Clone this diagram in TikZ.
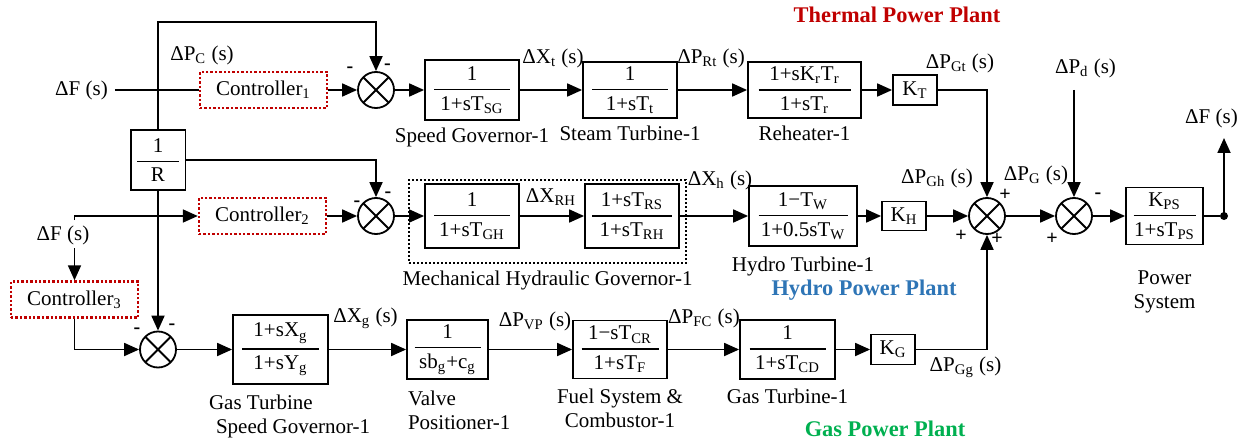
\documentclass[tikz,border=0pt]{standalone}
\usepackage{amsmath}
\usepackage{fontspec}
\setmainfont{Liberation Serif}
\usetikzlibrary{arrows.meta,positioning}
\definecolor{ctlred}{HTML}{C00000}
\definecolor{hydblue}{HTML}{2E75B6}
\definecolor{gasgreen}{HTML}{00B050}
\newcommand{\tsb}[1]{\textsubscript{#1}}
\newcommand{\tf}[3][38pt]{$\genfrac{}{}{0.8pt}{0}{\makebox[#1]{#2}}{\makebox[#1]{#3}}$}
\tikzset{
  blk/.style={draw,rectangle,line width=0.9pt,inner sep=2pt},
  ctl/.style={draw=ctlred,rectangle,line width=1.2pt,dash pattern=on 1.2pt off 1pt,minimum width=63.5pt,minimum height=18pt},
  mhg/.style={draw,rectangle,line width=0.7pt,dash pattern=on 0.8pt off 1.2pt},
  sumj/.style={circle,draw,line width=0.9pt,minimum size=18pt,inner sep=0pt,
    path picture={\draw[line width=0.9pt] (path picture bounding box.south west) -- (path picture bounding box.north east)
      (path picture bounding box.north west) -- (path picture bounding box.south east);}},
  arr/.style={-{Triangle[length=7.5pt,width=6.5pt]},line width=0.9pt},
  lin/.style={line width=0.9pt},
  sgn/.style={font=\fontsize{10}{10}\selectfont\bfseries,inner sep=0pt},
  ttl/.style={font=\fontsize{11.2}{13}\selectfont\bfseries}
}
\begin{document}
\begin{tikzpicture}[x=5pt,y=-5pt,font=\fontsize{10.5}{12}\selectfont]
  \useasboundingbox (0,0) rectangle (125.8,44.4);
  % Titles
  \node[ttl,text=ctlred] (tthm) at (89.7,1.5) {Thermal Power Plant};
  \node[ttl,text=hydblue] (thyd) at (86.4,29.0) {Hydro Power Plant};
  \node[ttl,text=gasgreen] (tgas) at (88.5,42.9) {Gas Power Plant};

  % Thermal row
  \node (df1) at (8.15,9.0) {ΔF (s)};
  \node[ctl] (ctl1) at (26.35,9.0) {Controller\tsb{1}};
  \node[sumj] (sumt) at (37.6,9.0) {};
  \node[blk,minimum width=47pt,minimum height=30pt] (spg) at (47.2,9.0) {\tf{1}{1+sT\tsb{SG}}};
  \node[blk,minimum width=47pt,minimum height=28pt] (stt) at (63.0,9.0) {\tf{1}{1+sT\tsb{t}}};
  \node[blk,minimum width=56.5pt,minimum height=28pt] (rht) at (80.45,9.0) {\tf[46pt]{1+sK\tsb{r}T\tsb{r}}{1+sT\tsb{r}}};
  \node[blk,minimum width=22pt,minimum height=15pt] (kt) at (91.5,9.0) {K\tsb{T}};
  \node[below=0pt of spg] (cspg) {Speed Governor-1};
  \node[below=0pt of stt] (cstt) {Steam Turbine-1};
  \node[below=0pt of rht] (crht) {Reheater-1};
  \node (lpc) at (20.2,5.5) {ΔP\tsb{C} (s)};
  \node (lxt) at (55.3,5.8) {ΔX\tsb{t} (s)};
  \node (lprt) at (71.1,5.8) {ΔP\tsb{Rt} (s)};
  \node (lpgt) at (96.0,6.3) {ΔP\tsb{Gt} (s)};

  % Droop feedback
  \node[blk,minimum width=25pt,minimum height=30pt] (invr) at (15.8,16.0) {\tf[21pt]{1}{R}};
  \coordinate (fbtop) at (37.6,2.2);

  % Hydro row
  \node (df2) at (6.3,23.5) {ΔF (s)};
  \coordinate (f2top) at (7.45,22.0);
  \coordinate (f2bot) at (7.45,24.8);
  \node[ctl] (ctl2) at (26.25,21.6) {Controller\tsb{2}};
  \node[sumj] (sumh) at (37.6,21.6) {};
  \node[blk,minimum width=47pt,minimum height=32pt] (ghy) at (47.2,21.6) {\tf{1}{1+sT\tsb{GH}}};
  \node[blk,minimum width=47pt,minimum height=32pt] (rsh) at (63.2,21.6) {\tf[40pt]{1+sT\tsb{RS}}{1+sT\tsb{RH}}};
  \node[mhg,minimum width=138.5pt,minimum height=41.5pt] (mhgb) at (54.75,22.15) {};
  \node[blk,minimum width=54pt,minimum height=30pt] (hyt) at (80.3,21.6) {\tf[44.5pt]{1−T\tsb{W}}{1+0.5sT\tsb{W}}};
  \node[blk,minimum width=22pt,minimum height=14.5pt] (kh) at (90.4,21.6) {K\tsb{H}};
  \node[below=0pt of mhgb] (cmhg) {Mechanical Hydraulic Governor-1};
  \node[below=1.5pt of hyt] (chyt) {Hydro Turbine-1};
  \node (lxrh) at (55.1,19.7) {ΔX\tsb{RH}};
  \node (lxh) at (72.0,18.0) {ΔX\tsb{h} (s)};
  \node (lpgh) at (93.7,17.8) {ΔP\tsb{Gh} (s)};

  % Summation and power system
  \node[sumj] (sump) at (98.7,21.6) {};
  \node[sumj] (sumd) at (107.4,21.6) {};
  \node[blk,minimum width=38.5pt,minimum height=28.5pt] (kps) at (116.45,21.6) {\tf[31pt]{K\tsb{PS}}{1+sT\tsb{PS}}};
  \node[circle,fill,inner sep=0pt,minimum size=4pt] (dot) at (122.4,21.6) {};
  \coordinate (fout) at (122.4,13.8);
  \coordinate (pd) at (107.4,9.0);
  \node[below=9pt of kps,align=center] (ckps) {Power\\System};
  \node (lpg) at (103.6,17.5) {ΔP\tsb{G} (s)};
  \node (lpd) at (108.55,6.8) {ΔP\tsb{d} (s)};
  \node (lfo) at (121.15,11.8) {ΔF (s)};

  % Gas row
  \node[ctl] (ctl3) at (7.45,29.95) {Controller\tsb{3}};
  \node[sumj] (sumg) at (15.8,34.95) {};
  \node[blk,minimum width=47.5pt,minimum height=34.5pt] (gsg) at (28.05,34.95) {\tf[38.5pt]{1+sX\tsb{g}}{1+sY\tsb{g}}};
  \node[blk,minimum width=40.5pt,minimum height=29.5pt] (vpo) at (44.75,34.95) {\tf[33pt]{1}{sb\tsb{g}+c\tsb{g}}};
  \node[blk,minimum width=47pt,minimum height=29pt] (fcb) at (62.0,34.95) {\tf[38.5pt]{1−sT\tsb{CR}}{1+sT\tsb{F}}};
  \node[blk,minimum width=47.5pt,minimum height=29.5pt] (gtb) at (78.75,34.95) {\tf{1}{1+sT\tsb{CD}}};
  \node[blk,minimum width=22pt,minimum height=15pt] (kg) at (89.3,34.95) {K\tsb{G}};
  \node[anchor=north west,align=left] (cgsg) at (20.2,38.8) {Gas Turbine\\\hspace*{3.5pt}Speed Governor-1};
  \node[anchor=north west,align=left] (cvpo) at (40.1,38.4) {Valve\\Positioner-1};
  \node[below=1pt of fcb,align=center] (cfcb) {Fuel System \&\\Combustor-1};
  \node[below=1pt of gtb] (cgtb) {Gas Turbine-1};
  \node (lxg) at (36.55,31.8) {ΔX\tsb{g} (s)};
  \node (lpvp) at (53.5,32.1) {ΔP\tsb{VP} (s)};
  \node (lpfc) at (70.4,31.8) {ΔP\tsb{FC} (s)};
  \node (lpgg) at (96.55,36.7) {ΔP\tsb{Gg} (s)};

  % Signs at the junctions
  \node[sgn] (g1a) at (35.0,7.0) {-};
  \node[sgn] (g1b) at (38.75,6.7) {-};
  \node[sgn] (g2a) at (35.7,20.4) {-};
  \node[sgn] (g2b) at (38.8,19.5) {-};
  \node[sgn] (g3a) at (13.7,33.1) {-};
  \node[sgn] (g3b) at (17.2,32.7) {-};
  \node[sgn] (gpa) at (100.5,19.5) {+};
  \node[sgn] (gpb) at (96.1,23.6) {+};
  \node[sgn] (gpc) at (99.7,23.9) {+};
  \node[sgn] (gda) at (105.2,23.9) {+};
  \node[sgn] (gdb) at (109.8,19.6) {-};

  % Connections
  \draw[lin] (df1) -- (ctl1);
  \draw[arr] (ctl1) -- (sumt);
  \draw[arr] (sumt) -- (spg);
  \draw[arr] (spg) -- (stt);
  \draw[arr] (stt) -- (rht);
  \draw[arr] (rht) -- (kt);
  \draw[arr] (kt) -| (sump);
  \draw[arr] (invr) |- (fbtop) -- (sumt);
  \draw[arr] (invr) -| (sumh);
  \draw[arr] (invr) -- (sumg);
  \draw[arr] (f2top) |- (ctl2);
  \draw[arr] (f2bot) -- (ctl3);
  \draw[arr] (ctl2) -- (sumh);
  \draw[arr] (sumh) -- (ghy);
  \draw[arr] (ghy) -- (rsh);
  \draw[arr] (rsh) -- (hyt);
  \draw[arr] (hyt) -- (kh);
  \draw[arr] (kh) -- (sump);
  \draw[arr] (sump) -- (sumd);
  \draw[arr] (pd) -- (sumd);
  \draw[arr] (sumd) -- (kps);
  \draw[lin] (kps) -- (dot);
  \draw[arr] (dot.center) -- (fout);
  \draw[arr] (ctl3) |- (sumg);
  \draw[arr] (sumg) -- (gsg);
  \draw[arr] (gsg) -- (vpo);
  \draw[arr] (vpo) -- (fcb);
  \draw[arr] (fcb) -- (gtb);
  \draw[arr] (gtb) -- (kg);
  \draw[arr] (kg) -| (sump);
\end{tikzpicture}
\end{document}
